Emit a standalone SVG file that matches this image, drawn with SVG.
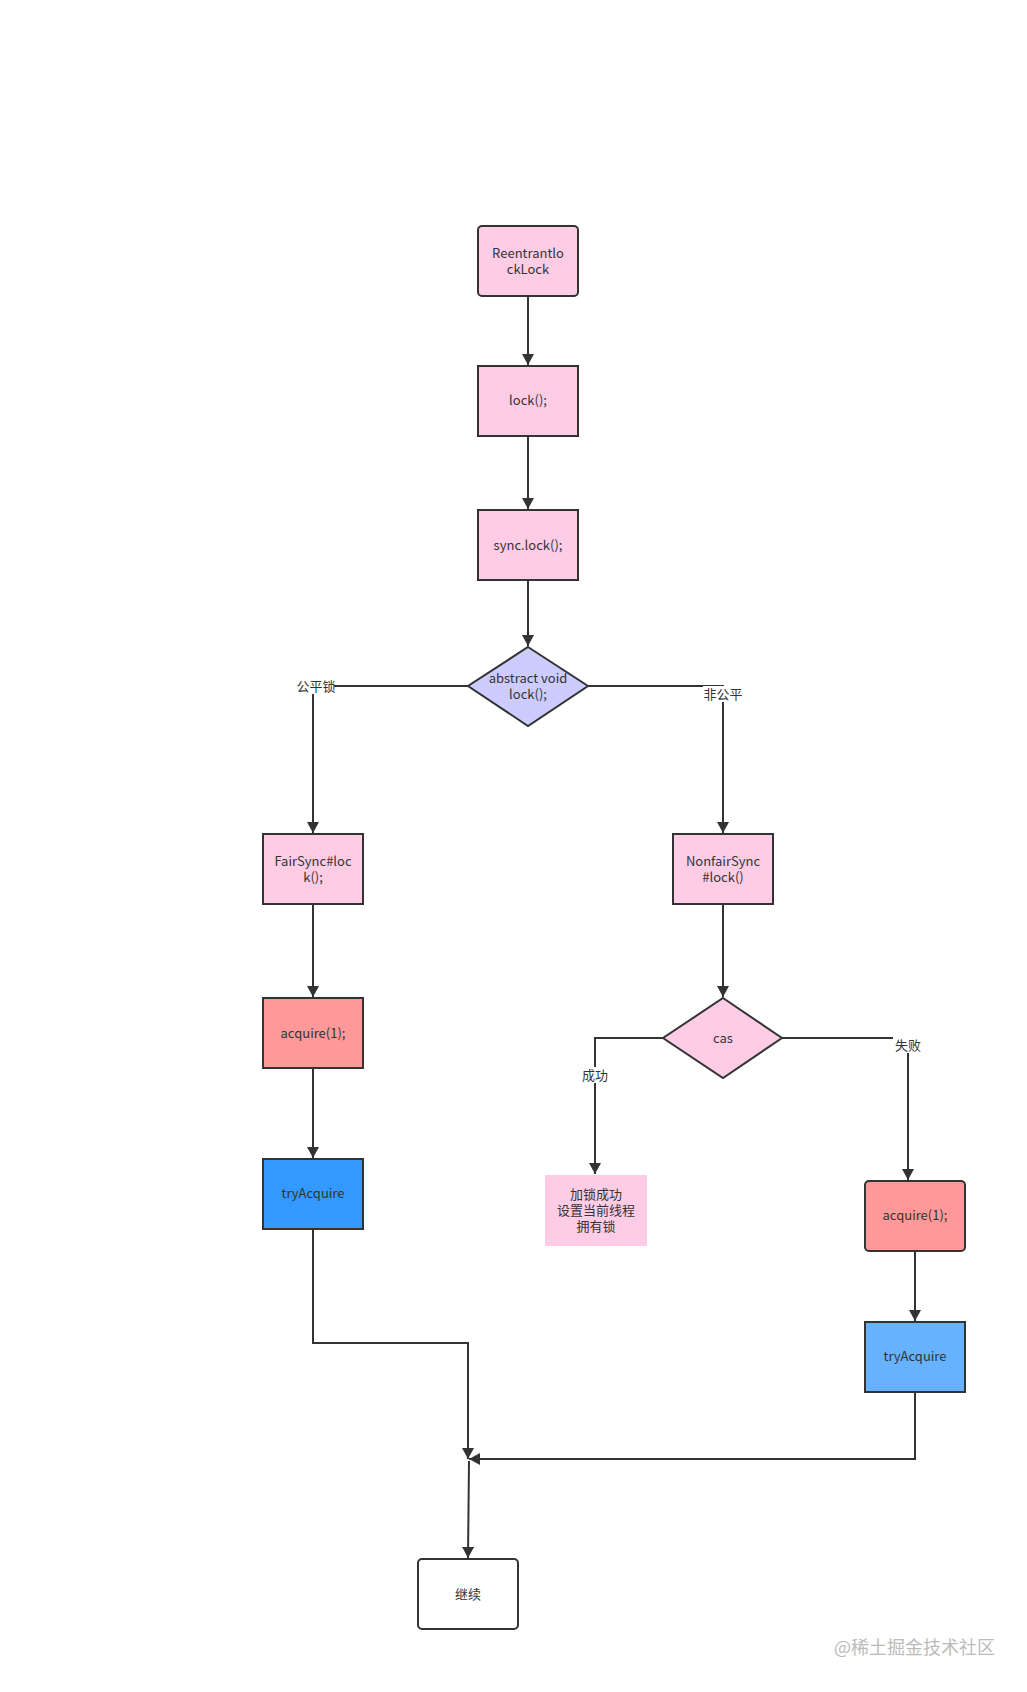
<svg xmlns="http://www.w3.org/2000/svg" width="1027" height="1692" viewBox="0 0 1027 1692">
<defs>
<marker id="arr" markerUnits="userSpaceOnUse" markerWidth="12" markerHeight="12" refX="11" refY="6" orient="auto">
<path d="M0,0 L11,6 L0,12 z" fill="#333"/>
</marker>
<style>
.n{stroke:#333;stroke-width:2}
.t{font-family:"Noto Sans CJK SC","Open Sans",sans-serif;font-size:13px;fill:#333;text-anchor:middle}
.e{fill:none;stroke:#333;stroke-width:2}
.lb{fill:#fff}
.wm{font-family:"Noto Sans CJK SC",sans-serif;font-size:18px;fill:#bbb}
</style>
</defs>
<rect width="1027" height="1692" fill="#fff"/>
<g id="connectors">
<path class="e" d="M528,296 V365" marker-end="url(#arr)"/>
<path class="e" d="M528,436 V509" marker-end="url(#arr)"/>
<path class="e" d="M528,580 V646" marker-end="url(#arr)"/>
<path class="e" d="M468,686 H313 V833" marker-end="url(#arr)"/>
<path class="e" d="M588,686 H723 V833" marker-end="url(#arr)"/>
<path class="e" d="M313,904 V997" marker-end="url(#arr)"/>
<path class="e" d="M313,1068 V1158" marker-end="url(#arr)"/>
<path class="e" d="M723,904 V997" marker-end="url(#arr)"/>
<path class="e" d="M663,1038 H595 V1174" marker-end="url(#arr)"/>
<path class="e" d="M782,1038 H908 V1180" marker-end="url(#arr)"/>
<path class="e" d="M915,1251 V1321" marker-end="url(#arr)"/>
<path class="e" d="M313,1229 V1343 H468 V1459" marker-end="url(#arr)"/>
<path class="e" d="M915,1392 V1459 H469" marker-end="url(#arr)"/>
<path class="e" d="M469,1461 L468,1558" marker-end="url(#arr)"/>
<rect class="lb" x="296" y="678" width="38" height="16"/>
<text class="t" x="316" y="691" font-size="12">公平锁</text>
<rect class="lb" x="703" y="686" width="40" height="16"/>
<text class="t" x="723" y="699" font-size="12">非公平</text>
<rect class="lb" x="580" y="1067" width="30" height="16"/>
<text class="t" x="595" y="1080" font-size="12">成功</text>
<rect class="lb" x="893" y="1037" width="30" height="16"/>
<text class="t" x="908" y="1050" font-size="12">失败</text>
</g>
<g id="reentrant">
<rect class="n" x="478" y="226" width="100" height="70" rx="4" fill="#FFCCE6"/>
<text class="t" x="528" y="258">Reentrantlo</text>
<text class="t" x="528" y="274">ckLock</text>
</g>
<g id="lock">
<rect class="n" x="478" y="366" width="100" height="70" fill="#FFCCE6"/>
<text class="t" x="528" y="405">lock();</text>
</g>
<g id="synclock">
<rect class="n" x="478" y="510" width="100" height="70" fill="#FFCCE6"/>
<text class="t" x="528" y="550">sync.lock();</text>
</g>
<g id="abstract">
<polygon class="n" points="528,647 588,686 528,726 468,686" fill="#CCCCFF"/>
<text class="t" x="528" y="683">abstract void</text>
<text class="t" x="528" y="699">lock();</text>
</g>
<g id="fairsync">
<rect class="n" x="263" y="834" width="100" height="70" fill="#FFCCE6"/>
<text class="t" x="313" y="866">FairSync#loc</text>
<text class="t" x="313" y="882">k();</text>
</g>
<g id="nonfairsync">
<rect class="n" x="673" y="834" width="100" height="70" fill="#FFCCE6"/>
<text class="t" x="723" y="866">NonfairSync</text>
<text class="t" x="723" y="882">#lock()</text>
</g>
<g id="acquire1">
<rect class="n" x="263" y="998" width="100" height="70" fill="#FF9999"/>
<text class="t" x="313" y="1038">acquire(1);</text>
</g>
<g id="tryacquire1">
<rect class="n" x="263" y="1159" width="100" height="70" fill="#3399FF"/>
<text class="t" x="313" y="1198">tryAcquire</text>
</g>
<g id="cas">
<polygon class="n" points="723,998 782,1038 723,1078 663,1038" fill="#FFCCE6"/>
<text class="t" x="723" y="1043">cas</text>
</g>
<g id="success">
<rect x="545" y="1175" width="102" height="71" fill="#FFCCE6"/>
<text class="t" x="596" y="1199">加锁成功</text>
<text class="t" x="596" y="1215">设置当前线程</text>
<text class="t" x="596" y="1231">拥有锁</text>
</g>
<g id="acquire2">
<rect class="n" x="865" y="1181" width="100" height="70" rx="4" fill="#FF9999"/>
<text class="t" x="915" y="1220">acquire(1);</text>
</g>
<g id="tryacquire2">
<rect class="n" x="865" y="1322" width="100" height="70" fill="#66B2FF"/>
<text class="t" x="915" y="1361">tryAcquire</text>
</g>
<g id="continue">
<rect class="n" x="418" y="1559" width="100" height="70" rx="4" fill="#fff"/>
<text class="t" x="468" y="1599">继续</text>
</g>
<text class="wm" x="834" y="1654">@稀土掘金技术社区</text>
</svg>
